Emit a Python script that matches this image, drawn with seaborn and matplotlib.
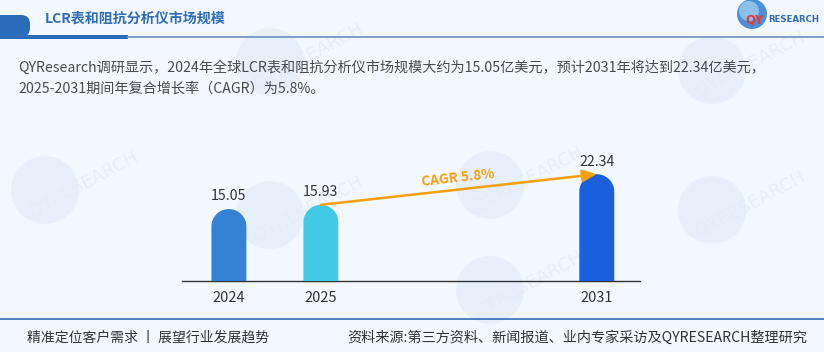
import numpy as np
import matplotlib
matplotlib.use("Agg")
import matplotlib.pyplot as plt
import seaborn as sns
from matplotlib.patches import Polygon, Circle, FancyBboxPatch, Rectangle
from matplotlib.lines import Line2D

# ---------------- data ----------------
years = ["2024", "2025", "2031"]
values = [15.05, 15.93, 22.34]
slots = [0, 1, 4]          # slot positions along the axis (gap before 2031)
bar_colors = ["#3581D4", "#41C9E5", "#1A5FDE"]
cagr_label = "CAGR 5.8%"
title = "LCR表和阻抗分析仪市场规模"
desc_line1 = "QYResearch调研显示，2024年全球LCR表和阻抗分析仪市场规模大约为15.05亿美元，预计2031年将达到22.34亿美元，"
desc_line2 = "2025-2031期间年复合增长率（CAGR）为5.8%。"
footer_left = "精准定位客户需求 丨 展望行业发展趋势"
footer_right = "资料来源:第三方资料、新闻报道、业内专家采访及QYRESEARCH整理研究"

sns.set_theme(style="white")
plt.rcParams["font.family"] = ["Noto Sans CJK SC", "DejaVu Sans"]
plt.rcParams["axes.unicode_minus"] = False

W, H = 824, 352
BG = "#F3F8FE"
fig = plt.figure(figsize=(W / 100, H / 100), dpi=100, facecolor=BG)

def fx(px):
    return px / W

def fy(py):
    return 1 - py / H

# ---------------- watermarks (faint) ----------------
wm = fig.add_axes([0, 0, 1, 1], zorder=0)
wm.set_xlim(0, W); wm.set_ylim(H, 0); wm.axis("off")
wm.set_facecolor(BG)
for cx, cy in [(45, 190), (270, 215), (490, 185), (712, 210), (270, 62), (490, 290), (712, 70)]:
    wm.add_patch(Circle((cx, cy), 34, color="#E3EEF9", alpha=0.7, lw=0))
    wm.text(cx + 38, cy - 6, "QYRESEARCH", rotation=28, fontsize=13, color="#E4ECF6",
            alpha=0.8, ha="center", va="center", family="DejaVu Sans")

# ---------------- header ----------------
hd = fig.add_axes([0, 0, 1, 1], zorder=1)
hd.set_xlim(0, W); hd.set_ylim(H, 0); hd.axis("off")
hd.patch.set_alpha(0)
hd.add_patch(FancyBboxPatch((-20, 15), 50, 22, boxstyle="round,pad=0,rounding_size=9",
                            color="#2B6CB8", lw=0))
hd.add_patch(Rectangle((0, 34.5), 128, 4.5, color="#2B6CB8", lw=0))
hd.add_line(Line2D([128, W], [37, 37], color="#7D9FCF", lw=1.4))
hd.text(45, 19, title, fontsize=10.1, fontweight="bold", color="#2F6DB7", ha="left", va="center")
# logo
hd.add_patch(Circle((752, 14), 15, color="#4A90D6", lw=0))
hd.add_patch(Circle((749, 11), 10, color="#9CCBF0", lw=0, alpha=0.8))
hd.text(745, 20, "QY", fontsize=8.5, fontweight="bold", color="#E53935", ha="left", va="center",
        family="DejaVu Sans")
hd.text(768, 20, "RESEARCH", fontsize=6.2, fontweight="bold", color="#2F6DB7", ha="left", va="center",
        family="DejaVu Sans")

# description
hd.text(18, 68, desc_line1, fontsize=10.2, color="#4A4A4A", ha="left", va="center")
hd.text(18, 89, desc_line2, fontsize=10.2, color="#4A4A4A", ha="left", va="center")

# footer
hd.add_line(Line2D([0, W], [319, 319], color="#2F6DB7", lw=1.2))
hd.text(27, 338, footer_left, fontsize=10, color="#333333", ha="left", va="center")
hd.text(807, 338, footer_right, fontsize=10.2, color="#333333", ha="right", va="center")

# ---------------- chart ----------------
ax_l, ax_r, ax_t, ax_b = 182, 640, 150, 281
ax = fig.add_axes([fx(ax_l), fy(ax_b), fx(ax_r - ax_l), (ax_b - ax_t) / H], zorder=2)
ax.patch.set_alpha(0)

sns.barplot(x=slots, y=values, hue=years, palette=bar_colors, native_scale=True,
            dodge=False, width=0.38, legend=False, ax=ax, saturation=1)

xlim = (-0.51, 4.47)
ylim = (0, 27.4)
ax.set_xlim(*xlim)
ax.set_ylim(*ylim)

px_per_x = (ax_r - ax_l) / (xlim[1] - xlim[0])
px_per_y = (ax_b - ax_t) / (ylim[1] - ylim[0])

# rounded tops
for p in list(ax.patches):
    x0, w, h = p.get_x(), p.get_width(), p.get_height()
    rx = w / 2
    ry = rx * px_per_x / px_per_y
    th = np.linspace(0, np.pi, 60)
    cx = x0 + rx
    arc = np.column_stack([cx + rx * np.cos(th), h - ry + ry * np.sin(th)])
    pts = np.vstack([[x0 + w, 0], arc, [x0, 0]])
    ax.add_patch(Polygon(pts, closed=True, color=p.get_facecolor(), lw=0, zorder=3))
    p.set_visible(False)

for c in ax.containers:
    ax.bar_label(c, fmt="%.2f", padding=4, fontsize=10.2, color="#333333")

ax.set_xticks(slots)
ax.set_xticklabels(years, fontsize=10.5, color="#333333")
ax.tick_params(axis="x", length=0, pad=7)
ax.set_yticks([])
ax.set_xlabel(""); ax.set_ylabel("")
for s in ["top", "right", "left"]:
    ax.spines[s].set_visible(False)
ax.spines["bottom"].set_color("#333333")
ax.spines["bottom"].set_linewidth(1.0)

# CAGR arrow
ax.annotate("", xy=(slots[2], values[2]), xytext=(slots[1], values[1]),
            arrowprops=dict(arrowstyle="-|>,head_length=0.7,head_width=0.3", color="#F5A00C",
                            lw=1.8, shrinkA=0, shrinkB=0), zorder=5)
dx = (slots[2] - slots[1]) * px_per_x
dy = (values[2] - values[1]) * px_per_y
ang = np.degrees(np.arctan2(dy, dx))
ax.text(2.49, 21.6, cagr_label, rotation=ang, rotation_mode="anchor", ha="center", va="center",
        fontsize=9.8, fontweight="bold", color="#F5A00C", zorder=6)

fig.savefig("out.png", dpi=100, facecolor=BG)
